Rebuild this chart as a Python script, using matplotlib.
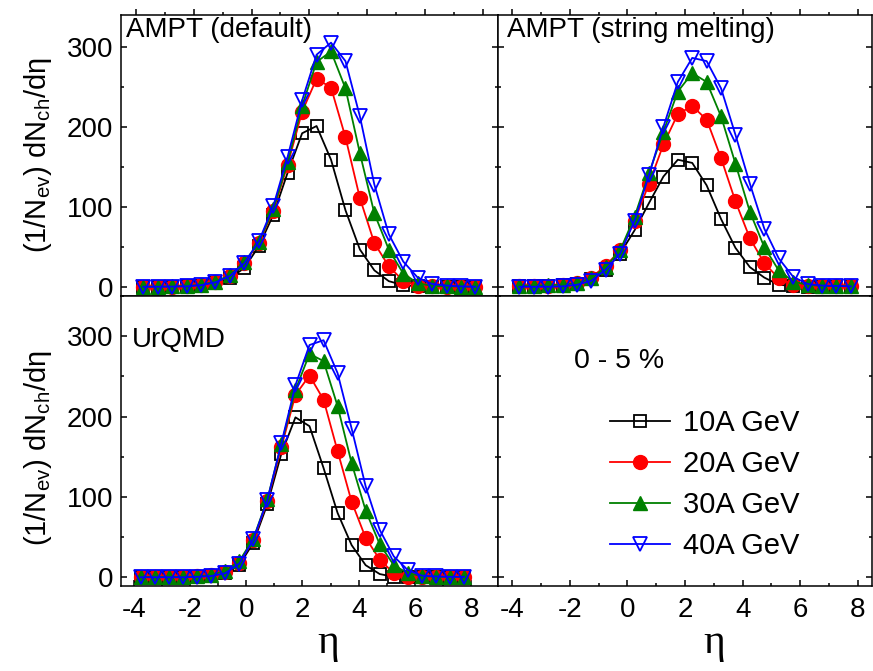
import numpy as np
import matplotlib
matplotlib.use("Agg")
import matplotlib.pyplot as plt
from matplotlib.ticker import MultipleLocator

plt.rcParams['font.family'] = ['Liberation Sans', 'DejaVu Sans']
plt.rcParams['mathtext.fontset'] = 'custom'
plt.rcParams['mathtext.rm'] = 'Liberation Sans'
plt.rcParams['mathtext.it'] = 'Liberation Sans:italic'
plt.rcParams['axes.unicode_minus'] = False

# pseudorapidity bins (same for every panel)
eta = [-3.75, -3.25, -2.75, -2.25, -1.75, -1.25, -0.75, -0.25, 0.25, 0.75, 1.25, 1.75,
       2.25, 2.75, 3.25, 3.75, 4.25, 4.75, 5.25, 5.75, 6.25, 6.75, 7.25, 7.75]

energies = ['10A GeV', '20A GeV', '30A GeV', '40A GeV']

# AMPT default
ampt_def_10 = [0.5, 0.5, 0.7, 1, 2, 5, 11, 24, 51, 90, 143, 192, 201, 159, 96, 47, 21, 7.5, 2.6, 1, 0.5, 0.5, 0.5, 0.5]
ampt_def_20 = [0.5, 0.5, 0.7, 1, 2.5, 6, 14, 30, 55, 95, 153, 219, 260, 249, 187, 111, 55, 26, 8, 2, 1, 0.5, 0.5, 0.5]
ampt_def_30 = [0.7, 0.7, 1, 1.5, 3, 7, 15, 31, 56, 97, 156, 226, 281, 294, 248, 167, 92, 47, 17, 5, 1.5, 1, 0.7, 0.7]
ampt_def_40 = [0.5, 0.5, 0.7, 1, 2.5, 6, 14, 30, 57, 101, 163, 233, 290, 305, 282, 213, 128, 66, 32, 12, 4, 2, 1, 0.5]

# AMPT string melting
ampt_sm_10 = [1.5, 1.5, 2, 2.5, 4, 10, 22, 42, 71, 105, 138, 159, 155, 127, 85, 49, 25, 12, 3, 1.5, 0.5, 0.5, 0.5, 0.5]
ampt_sm_20 = [1.5, 1.5, 2, 3, 5, 12, 27, 46, 83, 129, 178, 216, 226, 209, 161, 107, 61, 30, 11, 3, 1, 1, 1, 1]
ampt_sm_30 = [2, 2, 2.5, 3, 5, 11, 25, 46, 88, 142, 194, 244, 267, 256, 213, 154, 94, 50, 21, 7, 3, 1.5, 1.5, 1.5]
ampt_sm_40 = [0.5, 0.5, 0.5, 1, 3, 8, 22, 42, 83, 140, 200, 256, 286, 282, 248, 190, 129, 73, 36, 13, 4, 2, 1.5, 1]

# UrQMD
urqmd_10 = [0, 0, 0, 0, 0.5, 1.5, 5, 15, 43, 91, 154, 199, 188, 136, 80, 40, 15, 4, 0.5, 0, 0, 0, 0, 0]
urqmd_20 = [0.5, 0.5, 0.5, 0.5, 1, 2.5, 7, 18, 46, 95, 162, 227, 251, 221, 157, 94, 49, 22, 5, 0.8, 0.5, 0.5, 0.5, 0.5]
urqmd_30 = [0.5, 0.5, 0.5, 0.5, 1, 3, 8, 20, 48, 97, 166, 233, 278, 269, 213, 142, 83, 41, 15, 5, 1.5, 0.5, 0.5, 0.5]
urqmd_40 = [0, 0, 0, 0, 0.5, 1.5, 5, 17, 47, 96, 167, 239, 289, 295, 254, 185, 113, 59, 26, 9, 2, 1, 0.5, 0.5]

styles = [dict(color='black', marker='s', mfc='none', ms=9, mew=1.3),
          dict(color='red', marker='o', mfc='red', ms=10),
          dict(color='green', marker='^', mfc='green', ms=10.5),
          dict(color='blue', marker='v', mfc='none', ms=10.5, mew=1.3)]

W, H = 873, 671
fig = plt.figure(figsize=(W / 100, H / 100), dpi=100)


def box(x0, y0, x1, y1):
    # pixel box -> figure fraction
    return [x0 / W, 1 - y1 / H, (x1 - x0) / W, (y1 - y0) / H]


def setup(ax, xlim, ylim, xlabels, ylabels, top_row):
    ax.set_xlim(*xlim)
    ax.set_ylim(*ylim)
    ax.xaxis.set_major_locator(MultipleLocator(2))
    ax.xaxis.set_minor_locator(MultipleLocator(1))
    ax.yaxis.set_major_locator(MultipleLocator(100))
    ax.yaxis.set_minor_locator(MultipleLocator(50))
    ax.tick_params(which='both', direction='in', top=True, right=True,
                   width=1.1, colors='black')
    ax.tick_params(which='major', length=4.5)
    ax.tick_params(which='minor', length=2.2)
    if top_row:
        ax.tick_params(axis='x', which='both', bottom=True, direction='out')
        ax.tick_params(axis='x', which='both', top=True)
    else:
        ax.tick_params(axis='x', which='both', top=False)
    ax.tick_params(axis='x', labelbottom=xlabels, pad=8)
    ax.tick_params(axis='y', labelleft=ylabels, pad=6)
    for lab in ax.get_xticklabels() + ax.get_yticklabels():
        lab.set_fontsize(20)
    for s in ax.spines.values():
        s.set_linewidth(1.1)


def draw(ax, series):
    lines = []
    for y, st in zip(series, styles):
        ln, = ax.plot(eta, y, lw=1.3, **st)
        lines.append(ln)
    return lines


ax_tl = fig.add_axes(box(121.3, 15, 497.7, 296))
ax_tr = fig.add_axes(box(497.7, 15, 871.5, 296))
ax_bl = fig.add_axes(box(121.3, 296, 497.7, 585.7))
ax_br = fig.add_axes(box(497.7, 296, 871.5, 585.7))

handles = draw(ax_tl, [ampt_def_10, ampt_def_20, ampt_def_30, ampt_def_40])
draw(ax_tr, [ampt_sm_10, ampt_sm_20, ampt_sm_30, ampt_sm_40])
draw(ax_bl, [urqmd_10, urqmd_20, urqmd_30, urqmd_40])

setup(ax_tl, (-4.51, 8.52), (-11, 339.5), False, True, True)
setup(ax_tr, (-4.5, 8.47), (-11, 339.5), False, False, True)
setup(ax_bl, (-4.45, 8.95), (-10.5, 350), True, True, False)
setup(ax_br, (-4.5, 8.47), (-10.5, 350), True, False, False)

ax_tl.text(0.012, 0.945, 'AMPT (default)', transform=ax_tl.transAxes, fontsize=20, va='center')
ax_tr.text(0.025, 0.945, 'AMPT (string melting)', transform=ax_tr.transAxes, fontsize=20, va='center')
ax_bl.text(0.028, 0.848, 'UrQMD', transform=ax_bl.transAxes, fontsize=20, va='center')
ax_br.text(0.205, 0.776, '0 - 5 %', transform=ax_br.transAxes, fontsize=20.5, va='center')

ax_br.legend(handles, energies, loc='upper left', bbox_to_anchor=(0.30, 0.61), frameon=False,
             fontsize=21, handlelength=2.05, handletextpad=0.45, labelspacing=0.45,
             borderpad=0, borderaxespad=0)

ylab = '(1/N$_{\\mathrm{ev}}$) dN$_{\\mathrm{ch}}$/dη'
fig.text(38 / W, 1 - 155 / H, ylab, rotation=90, fontsize=21, ha='center', va='center')
fig.text(38 / W, 1 - 448 / H, ylab, rotation=90, fontsize=21, ha='center', va='center')
fig.text(328 / W, 1 - 643 / H, 'η', fontsize=30, ha='center', va='center', family='Liberation Serif')
fig.text(714 / W, 1 - 643 / H, 'η', fontsize=30, ha='center', va='center', family='Liberation Serif')

fig.savefig('out.png', dpi=100)
